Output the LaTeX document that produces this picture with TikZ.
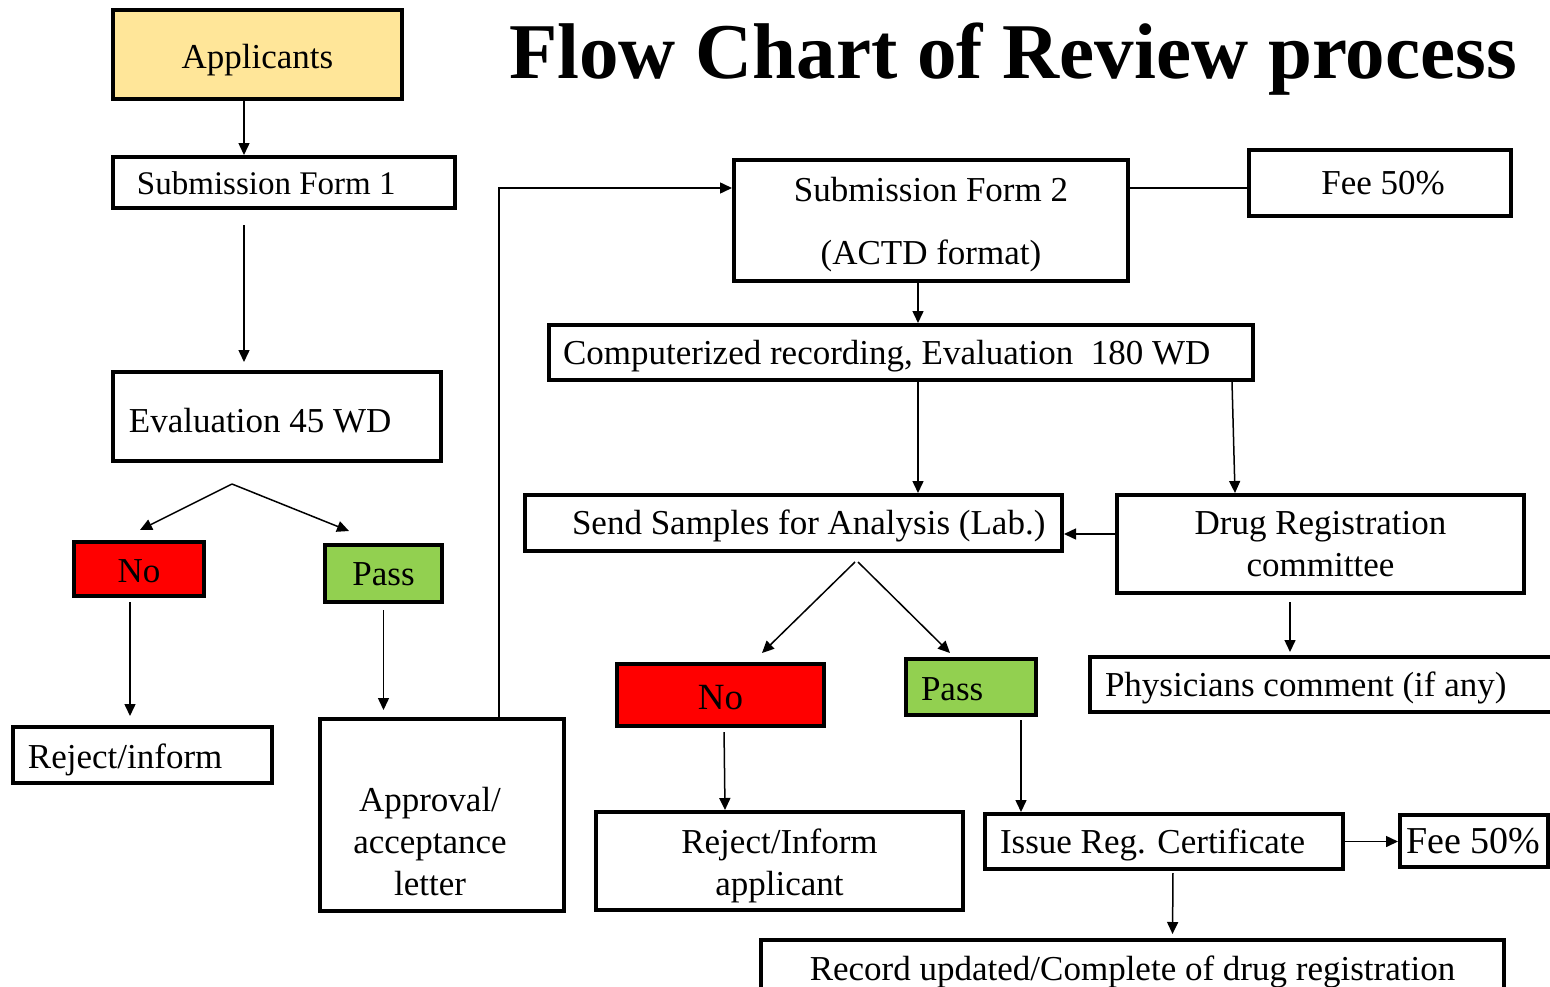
\documentclass[tikz,border=0pt]{standalone}
\usepackage{fontspec}
\setmainfont{Liberation Serif}
\usetikzlibrary{arrows.meta,calc}
\definecolor{appyel}{HTML}{FFE699}
\definecolor{nored}{HTML}{FF0000}
\definecolor{passgr}{HTML}{92D050}
\newcommand\fz[2]{\fontsize{#1}{#2}\selectfont}
\tikzset{
  box/.style={draw, line width=4bp, inner sep=0pt, font=\fz{35bp}{42bp}},
  one/.style={text height=31bp, text depth=8bp},
  conn/.style={line width=1.5bp},
  arr/.style={conn, -{Triangle[length=12bp,width=11bp]}}
}
\begin{document}
\begin{tikzpicture}[x=1bp,y=-1bp]
\useasboundingbox[fill=white] (0,0) rectangle (1550,986);

\node[anchor=base, font=\bfseries\fz{79bp}{90bp}] (title) at (1013,78) {Flow Chart of Review process};

% left column
\node[box, one, text height=35bp, fill=appyel, minimum width=289bp, minimum height=89bp] (app) at (257.5,54.5) {Applicants};
\node[box, one, font=\fz{33bp}{40bp}, minimum height=51bp, inner xsep=24bp] (sf1) at (284,182.5) {\makebox[294bp][l]{Submission Form 1}};
\node[box, one, text height=39bp, minimum height=89bp, inner xsep=16bp] (ev) at (277,416.5) {\makebox[296bp][l]{Evaluation 45 WD}};
\node[box, one, text height=34bp, fill=nored, minimum width=130bp, minimum height=54bp] (nol) at (139,569) {No};
\node[box, one, fill=passgr, minimum width=117bp, minimum height=57bp] (passl) at (383.5,573.5) {Pass};
\node[box, one, text height=34bp, minimum height=56bp, inner xsep=15bp] (rejl) at (142.5,755) {\makebox[229bp][l]{Reject/inform}};
\node[box, minimum width=244bp, minimum height=192bp,
  label={[name=apprtext, align=center, font=\fz{35bp}{42bp}, xshift=-12bp, yshift=-27bp]center:Approval/\\acceptance\\letter}] (appr) at (442,815) {};

% right part
\node[box, align=center, minimum width=394bp, minimum height=121bp] (sf2) at (931,220.5) {\rule{0pt}{33bp}Submission Form 2\\[21bp](ACTD format)};
\node[box, one, minimum width=262bp, minimum height=66bp, inner xsep=0pt] (fee1) at (1380,183) {\hspace*{6bp}Fee 50\%};
\node[box, one, minimum height=55bp, inner xsep=14bp] (cr) at (901,352.5) {\makebox[676bp][l]{Computerized recording, Evaluation\ \ 180 WD}};
\node[box, one, minimum height=56bp, inner xsep=47bp] (ss) at (793.5,523) {\makebox[443bp][l]{Send Samples for Analysis (Lab.)}};
\node[box, align=center, minimum width=407bp, minimum height=98bp] (drc) at (1320.5,544) {Drug Registration\\committee};
\node[box, one, minimum height=55bp, inner xsep=15bp] (phys) at (1322,684.5) {\makebox[434bp][l]{Physicians comment (if any)}};
\node[box, one, text height=36bp, fill=nored, font=\fz{37bp}{44bp}, minimum width=207bp, minimum height=62bp] (nor) at (720.5,695) {No};
\node[box, one, text height=34bp, fill=passgr, minimum height=56bp, inner xsep=15bp] (passr) at (971,687) {\makebox[100bp][l]{Pass}};
\node[box, align=center, minimum width=367bp, minimum height=98bp] (rejr) at (779.5,861) {\rule{0pt}{35bp}Reject/Inform\\applicant};
\node[box, one, minimum height=55bp, inner xsep=15bp] (iss) at (1164,841.5) {\makebox[328bp][l]{Issue Reg. Certificate}};
\node[box, minimum height=52bp, inner xsep=6bp, font=\fz{38bp}{46bp}, text height=33bp, text depth=8bp] (fee2) at (1474,841) {\makebox[136bp][l]{Fee 50\%}};
\node[box, one, text height=28bp, minimum width=743bp, minimum height=60bp] (rec) at (1132.5,970) {Record updated/Complete of drug registration};

% connectors left
\draw[arr] ([xshift=-13.5bp]app.south) -- ([xshift=-13.5bp]app.south |- sf1.north);
\draw[arr, shorten <=15bp, shorten >=8bp] ([xshift=-40bp]sf1.south) -- ([xshift=-40bp]sf1.south |- ev.north);
\coordinate (fk1) at ([xshift=-45bp, yshift=-21bp]ev.south);
\draw[arr] (fk1) -- ([xshift=1bp, yshift=10bp]nol.north);
\draw[arr] (fk1) -- ([xshift=-34.5bp, yshift=12bp]passl.north);
\draw[arr, shorten <=4bp, shorten >=9bp] ([xshift=-9bp]nol.south) -- ([xshift=-9bp]nol.south |- rejl.north);
\draw[arr, shorten <=6bp, shorten >=7bp] (passl.south) -- (passl.south |- appr.north);
\draw[arr] ([xshift=57bp]appr.north) |- ([yshift=32.5bp]sf2.west);

% connectors right
\draw[conn] ([yshift=32.5bp]sf2.east) -- ([yshift=32.5bp]sf2.east -| fee1.west);
\draw[arr] ([xshift=-13bp]sf2.south) -- ([xshift=-13bp]sf2.south |- cr.north);
\draw[arr] ([xshift=17bp]cr.south) -- ([xshift=17bp]cr.south |- ss.north);
\draw[arr] ([xshift=331bp]cr.south) -- ([xshift=-85.5bp]drc.north);
\draw[arr] ([yshift=10bp]drc.west) -- ([yshift=10bp]drc.west -| ss.east);
\draw[arr, shorten <=7bp, shorten >=3bp] ([xshift=-30.5bp]drc.south) -- ([xshift=-30.5bp]drc.south |- phys.north);
\draw[arr] ([xshift=61.5bp, yshift=-9bp]ss.south) -- ([xshift=41.5bp, yshift=9bp]nor.north);
\draw[arr] ([xshift=64.5bp, yshift=-9bp]ss.south) -- ([xshift=-21bp, yshift=4bp]passr.north);
\draw[arr, shorten <=4bp] ([xshift=3.5bp]nor.south) -- ([xshift=-54.5bp]rejr.north);
\draw[arr, shorten <=3bp] ([xshift=50bp]passr.south) -- ([xshift=50bp]passr.south |- iss.north);
\draw[arr] (iss.east) -- (iss.east -| fee2.west);
\draw[arr, shorten <=2bp, shorten >=4bp] ([xshift=9bp]iss.south) -- ([xshift=40bp]rec.north);
\end{tikzpicture}
\end{document}
